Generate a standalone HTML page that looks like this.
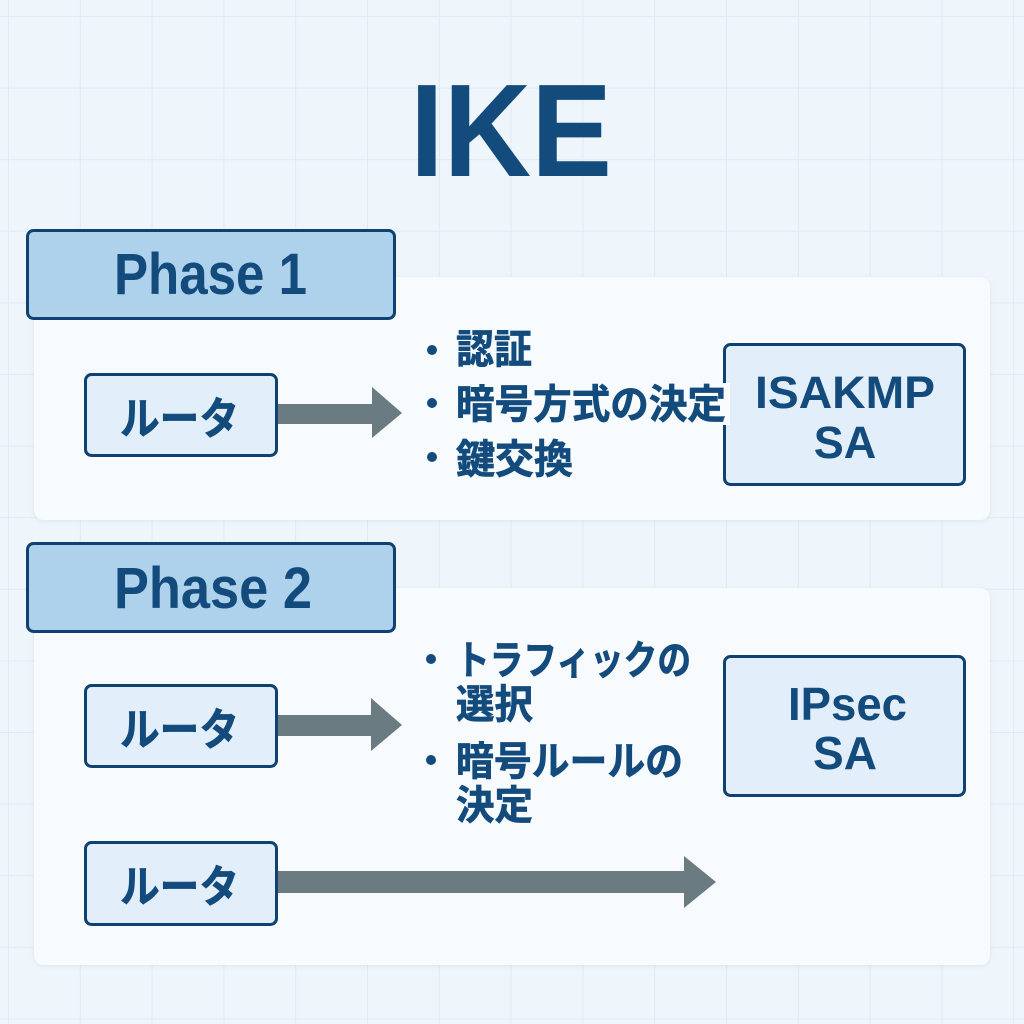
<!DOCTYPE html>
<html>
<head>
<meta charset="utf-8">
<style>
html,body{margin:0;padding:0;background:#eef5fb;}
svg{display:block;}
.lat{font-family:"Liberation Sans","Noto Sans CJK JP",sans-serif;font-weight:bold;}
.jp{font-family:"Liberation Sans","Noto Sans CJK JP",sans-serif;font-weight:bold;stroke:#134b7d;stroke-width:0.7;}
</style>
</head>
<body>
<svg width="1024" height="1024" viewBox="0 0 1024 1024" xmlns="http://www.w3.org/2000/svg">
  <defs>
    <pattern id="grid" x="8" y="16" width="71.8" height="71.6" patternUnits="userSpaceOnUse">
      <path d="M0 0 H71.8 M0 0 V71.6" stroke="#e0eaf4" stroke-width="2" fill="none"/>
    </pattern>
    <filter id="sh" x="-5%" y="-5%" width="110%" height="110%">
      <feDropShadow dx="0" dy="1" stdDeviation="2" flood-color="#9fb6cc" flood-opacity="0.25"/>
    </filter>
  </defs>
  <rect width="1024" height="1024" fill="#eef5fb"/>
  <rect width="1024" height="1024" fill="url(#grid)"/>

  <!-- Title -->
  <text class="lat" x="410" y="176" font-size="132" fill="#134b7d" textLength="202" lengthAdjust="spacingAndGlyphs">IKE</text>

  <!-- Phase 1 panel -->
  <rect x="34" y="277" width="956" height="243" rx="10" fill="#f8fbfe" filter="url(#sh)"/>
  <!-- Phase 2 panel -->
  <rect x="34" y="588" width="956" height="377" rx="10" fill="#f8fbfe" filter="url(#sh)"/>

  <!-- Phase headers -->
  <rect x="27.5" y="230.5" width="367" height="88" rx="6" fill="#afd2ec" stroke="#0f4272" stroke-width="3"/>
  <text class="lat" x="114" y="294" font-size="58" fill="#134b7d" textLength="193" lengthAdjust="spacingAndGlyphs">Phase 1</text>
  <rect x="27.5" y="543.5" width="367" height="88" rx="6" fill="#afd2ec" stroke="#0f4272" stroke-width="3"/>
  <text class="lat" x="114" y="608" font-size="58" fill="#134b7d" textLength="198" lengthAdjust="spacingAndGlyphs">Phase 2</text>

  <!-- Router boxes -->
  <rect x="85.5" y="374.5" width="191" height="81" rx="6" fill="#e2eef9" stroke="#0f4272" stroke-width="3"/>
  <text class="jp" x="120" y="434" font-size="44" fill="#134b7d" textLength="119" lengthAdjust="spacingAndGlyphs">ルータ</text>
  <rect x="85.5" y="685.5" width="191" height="81" rx="6" fill="#e2eef9" stroke="#0f4272" stroke-width="3"/>
  <text class="jp" x="120" y="745" font-size="44" fill="#134b7d" textLength="119" lengthAdjust="spacingAndGlyphs">ルータ</text>
  <rect x="85.5" y="842.5" width="191" height="82" rx="6" fill="#e2eef9" stroke="#0f4272" stroke-width="3"/>
  <text class="jp" x="120" y="902" font-size="44" fill="#134b7d" textLength="119" lengthAdjust="spacingAndGlyphs">ルータ</text>

  <!-- Arrows -->
  <polygon points="278,404 372,404 372,387 402,413 372,438 372,424 278,424" fill="#6a7b81"/>
  <polygon points="278,715 371,715 371,698 402,725 371,751 371,736 278,736" fill="#6a7b81"/>
  <polygon points="278,871 684,871 684,856 716,882 684,908 684,893 278,893" fill="#6a7b81"/>

  <!-- SA boxes -->
  <rect x="724.5" y="344.5" width="240" height="140" rx="6" fill="#e2eef9" stroke="#0f4272" stroke-width="3"/>
  <text class="lat" x="755" y="408" font-size="45" fill="#134b7d" textLength="180" lengthAdjust="spacingAndGlyphs">ISAKMP</text>
  <text class="lat" x="845" y="458" font-size="45" fill="#134b7d" text-anchor="middle">SA</text>

  <rect x="724.5" y="656.5" width="240" height="139" rx="6" fill="#e2eef9" stroke="#0f4272" stroke-width="3"/>
  <text class="lat" x="788" y="720" font-size="46" fill="#134b7d" textLength="119" lengthAdjust="spacingAndGlyphs">IPsec</text>
  <text class="lat" x="845" y="769" font-size="46" fill="#134b7d" text-anchor="middle">SA</text>

  <!-- Phase 1 bullets -->
  <circle cx="432" cy="350" r="5" fill="#134b7d"/>
  <circle cx="432" cy="403" r="5" fill="#134b7d"/>
  <circle cx="432" cy="457" r="5" fill="#134b7d"/>
  <rect x="700" y="383" width="30" height="42" fill="#f9fbfd"/>
  <text class="jp" x="456" y="363" font-size="40" fill="#134b7d" textLength="76" lengthAdjust="spacingAndGlyphs">認証</text>
  <text class="jp" x="456" y="418" font-size="40" fill="#134b7d" textLength="270" lengthAdjust="spacingAndGlyphs">暗号方式の決定</text>
  <text class="jp" x="456" y="473" font-size="40" fill="#134b7d" textLength="117" lengthAdjust="spacingAndGlyphs">鍵交換</text>

  <!-- Phase 2 bullets -->
  <circle cx="431" cy="659" r="5" fill="#134b7d"/>
  <circle cx="431" cy="760" r="5" fill="#134b7d"/>
  <text class="jp" x="456" y="674" font-size="40" fill="#134b7d" textLength="235" lengthAdjust="spacingAndGlyphs">トラフィックの</text>
  <text class="jp" x="456" y="718" font-size="40" fill="#134b7d" textLength="77" lengthAdjust="spacingAndGlyphs">選択</text>
  <text class="jp" x="456" y="775" font-size="40" fill="#134b7d" textLength="227" lengthAdjust="spacingAndGlyphs">暗号ルールの</text>
  <text class="jp" x="456" y="819" font-size="40" fill="#134b7d" textLength="77" lengthAdjust="spacingAndGlyphs">決定</text>
</svg>
</body>
</html>
